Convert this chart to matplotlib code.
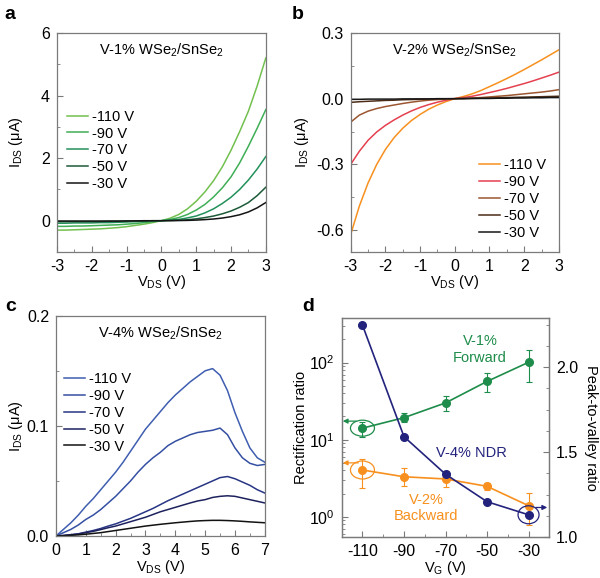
import numpy as np
import matplotlib
matplotlib.use("Agg")
import matplotlib.pyplot as plt
from matplotlib.patches import Ellipse
from matplotlib.ticker import MultipleLocator, LogLocator, NullFormatter
import matplotlib.transforms as mtransforms

plt.rcParams['font.family'] = ['Liberation Sans', 'DejaVu Sans']
plt.rcParams['mathtext.fontset'] = 'custom'
plt.rcParams['mathtext.rm'] = 'Liberation Sans'
plt.rcParams['mathtext.it'] = 'Liberation Sans'
plt.rcParams['axes.unicode_minus'] = False

# ---- data ----
gates = ['-110 V', '-90 V', '-70 V', '-50 V', '-30 V']

# panel a: V-1% (V_DS from -3 to 3, step 0.25)
v_ab = [-3, -2.75, -2.5, -2.25, -2, -1.75, -1.5, -1.25, -1, -0.75, -0.5, -0.25, 0,
        0.25, 0.5, 0.75, 1, 1.25, 1.5, 1.75, 2, 2.25, 2.5, 2.75, 3]
a_110 = [-0.30, -0.30, -0.29, -0.28, -0.27, -0.26, -0.24, -0.22, -0.19, -0.15, -0.11, -0.06, 0,
         0.08, 0.20, 0.38, 0.62, 0.92, 1.28, 1.72, 2.25, 2.85, 3.5, 4.3, 5.2]
a_90 = [-0.18, -0.18, -0.17, -0.17, -0.16, -0.15, -0.14, -0.13, -0.11, -0.09, -0.06, -0.03, 0,
        0.04, 0.10, 0.20, 0.34, 0.52, 0.76, 1.05, 1.40, 1.85, 2.38, 2.95, 3.55]
a_70 = [-0.08, -0.08, -0.07, -0.07, -0.07, -0.06, -0.06, -0.05, -0.04, -0.03, -0.02, -0.01, 0,
        0.02, 0.04, 0.09, 0.15, 0.25, 0.38, 0.55, 0.75, 1.00, 1.30, 1.65, 2.05]
a_50 = [-0.03, -0.03, -0.03, -0.03, -0.03, -0.03, -0.02, -0.02, -0.02, -0.01, -0.01, 0, 0,
        0.005, 0.015, 0.03, 0.06, 0.10, 0.15, 0.22, 0.31, 0.43, 0.58, 0.80, 1.07]
a_30 = [-0.01, -0.01, -0.01, -0.01, -0.01, -0.01, -0.01, -0.01, -0.005, -0.005, 0, 0, 0,
        0.002, 0.005, 0.01, 0.02, 0.035, 0.055, 0.085, 0.13, 0.19, 0.28, 0.41, 0.58]

# panel b: V-2%
b_110 = [-0.62, -0.49, -0.385, -0.30, -0.232, -0.178, -0.135, -0.100, -0.072, -0.048, -0.029, -0.013, 0,
         0.010, 0.022, 0.037, 0.055, 0.073, 0.092, 0.112, 0.133, 0.155, 0.177, 0.200, 0.223]
b_90 = [-0.30, -0.24, -0.19, -0.152, -0.122, -0.097, -0.075, -0.056, -0.040, -0.027, -0.016, -0.007, 0,
        0.005, 0.011, 0.019, 0.028, 0.037, 0.047, 0.058, 0.069, 0.081, 0.094, 0.107, 0.121]
b_70 = [-0.107, -0.075, -0.057, -0.045, -0.036, -0.029, -0.022, -0.016, -0.011, -0.007, -0.004, -0.002, 0,
        0.001, 0.003, 0.005, 0.008, 0.011, 0.014, 0.018, 0.022, 0.026, 0.030, 0.035, 0.041]
b_50 = [-0.017, -0.014, -0.012, -0.010, -0.008, -0.007, -0.005, -0.004, -0.003, -0.002, -0.001, -0.0005, 0,
        0.0005, 0.001, 0.002, 0.003, 0.004, 0.005, 0.006, 0.007, 0.008, 0.009, 0.010, 0.011]
b_30 = [-0.003, -0.003, -0.002, -0.002, -0.002, -0.002, -0.001, -0.001, -0.001, -0.001, 0, 0, 0,
        0, 0.001, 0.001, 0.001, 0.002, 0.002, 0.003, 0.003, 0.004, 0.004, 0.005, 0.005]

# panel c: V-4% (V_DS from 0 to 7, step 0.25)
v_c = [0, 0.25, 0.5, 0.75, 1, 1.25, 1.5, 1.75, 2, 2.25, 2.5, 2.75, 3, 3.25, 3.5, 3.75,
       4, 4.25, 4.5, 4.75, 5, 5.25, 5.5, 5.75, 6, 6.25, 6.5, 6.75, 7]
c_110 = [0, 0.006, 0.012, 0.019, 0.027, 0.034, 0.042, 0.050, 0.058, 0.067, 0.077, 0.087, 0.097, 0.105,
         0.113, 0.121, 0.128, 0.134, 0.140, 0.145, 0.150, 0.152, 0.146, 0.132, 0.112, 0.095, 0.080, 0.071, 0.067]
c_90 = [0, 0.003, 0.006, 0.010, 0.015, 0.019, 0.024, 0.030, 0.036, 0.043, 0.050, 0.058, 0.065, 0.071,
        0.076, 0.082, 0.086, 0.089, 0.092, 0.094, 0.095, 0.096, 0.098, 0.092, 0.080, 0.071, 0.066, 0.064, 0.065]
c_70 = [0, 0.0005, 0.0012, 0.002, 0.0035, 0.005, 0.0068, 0.009, 0.011, 0.0135, 0.016, 0.019, 0.022, 0.025,
        0.0285, 0.032, 0.035, 0.038, 0.041, 0.044, 0.047, 0.050, 0.053, 0.054, 0.052, 0.049, 0.046, 0.042, 0.039]
c_50 = [0, 0.0004, 0.001, 0.0018, 0.003, 0.0042, 0.0058, 0.0075, 0.009, 0.011, 0.013, 0.015, 0.017, 0.0195,
        0.022, 0.024, 0.026, 0.028, 0.030, 0.0318, 0.033, 0.035, 0.036, 0.0365, 0.036, 0.0345, 0.033, 0.0315, 0.030]
c_30 = [0, 0.0002, 0.0006, 0.001, 0.0016, 0.0023, 0.003, 0.004, 0.005, 0.006, 0.007, 0.008, 0.009, 0.0098,
        0.0106, 0.0113, 0.012, 0.0126, 0.0132, 0.0137, 0.014, 0.0142, 0.0142, 0.014, 0.0137, 0.0133, 0.0128, 0.0124, 0.012]

# panel d
vg = [-110, -90, -70, -50, -30]
fwd = [14.1, 19.3, 30, 57, 101]
fwd_lo = [10.9, 16.8, 23.6, 41.6, 56]
fwd_hi = [17.2, 22, 37, 73, 146]
bwd = [4.04, 3.3, 3.09, 2.48, 1.39]
bwd_lo = [2.34, 2.53, 2.41, 2.2, 0.78]
bwd_hi = [5.6, 4.33, 3.88, 2.77, 2.01]
ndr = [2.248, 1.591, 1.37, 1.208, 1.131]
ndr_err = [0.0, 0.012, 0.01, 0.008, 0.01]

green_cols = ['#72c04f', '#3fae55', '#23905a', '#1d5a38', '#141414']
brown_cols = ['#f7901e', '#e5404f', '#9b5630', '#4a2c16', '#161616']
blue_cols = ['#3f5eb0', '#3550a2', '#283584', '#1d225e', '#121212']
c_green = '#1e8c4a'
c_navy = '#23237d'
c_orange = '#f7901e'
spine_col = '#7a7a7a'

fig = plt.figure(figsize=(6.0, 5.78), dpi=100)
ax_a = fig.add_axes([0.095, 0.564, 0.348, 0.379])
ax_b = fig.add_axes([0.5845, 0.564, 0.347, 0.379])
ax_c = fig.add_axes([0.0933, 0.0727, 0.348, 0.381])
ax_d = fig.add_axes([0.5695, 0.0709, 0.346, 0.379])


def style(ax):
    for s in ax.spines.values():
        s.set_color(spine_col)
        s.set_linewidth(0.9)
    ax.tick_params(which='both', direction='in', color=spine_col, labelsize=11.5, pad=5)
    ax.tick_params(which='major', length=4)
    ax.tick_params(which='minor', length=2.2)


legend_kw = dict(frameon=False, fontsize=10.5, handlelength=1.4, handletextpad=0.3,
                 labelspacing=0.2, borderpad=0, borderaxespad=0)

# ---- a ----
for ys, c, lab in zip([a_110, a_90, a_70, a_50, a_30], green_cols, gates):
    ax_a.plot(v_ab, ys, color=c, lw=1.1, label=lab)
ax_a.set_xlim(-3, 3)
ax_a.set_ylim(-1, 6)
ax_a.set_xticks([-3, -2, -1, 0, 1, 2, 3])
ax_a.set_yticks([0, 2, 4, 6])
ax_a.xaxis.set_minor_locator(MultipleLocator(0.5))
ax_a.yaxis.set_minor_locator(MultipleLocator(1))
style(ax_a)
ax_a.text(0.5, 0.92, 'V-1% WSe$_2$/SnSe$_2$', transform=ax_a.transAxes, ha='center', va='center', fontsize=10.5)
ax_a.legend(loc='upper left', bbox_to_anchor=(0.05, 0.65), **legend_kw)
ax_a.set_xlabel('V$_{\\mathregular{DS}}$ (V)', fontsize=10.5)
ax_a.set_ylabel('I$_{\\mathregular{DS}}$ (μA)', fontsize=10.5)
ax_a.xaxis.set_label_coords(0.5, -0.095)
ax_a.yaxis.set_label_coords(-0.155, 0.5)

# ---- b ----
for ys, c, lab in zip([b_110, b_90, b_70, b_50, b_30], brown_cols, gates):
    ax_b.plot(v_ab, ys, color=c, lw=1.1, label=lab)
ax_b.set_xlim(-3, 3)
ax_b.set_ylim(-0.7, 0.3)
ax_b.set_xticks([-3, -2, -1, 0, 1, 2, 3])
ax_b.set_yticks([-0.6, -0.3, 0.0, 0.3])
ax_b.set_yticklabels(['-0.6', '-0.3', '0.0', '0.3'])
ax_b.xaxis.set_minor_locator(MultipleLocator(0.5))
ax_b.yaxis.set_minor_locator(MultipleLocator(0.15))
style(ax_b)
ax_b.text(0.5, 0.92, 'V-2% WSe$_2$/SnSe$_2$', transform=ax_b.transAxes, ha='center', va='center', fontsize=10.5)
ax_b.legend(loc='lower right', bbox_to_anchor=(0.94, 0.055), **legend_kw)
ax_b.set_xlabel('V$_{\\mathregular{DS}}$ (V)', fontsize=10.5)
ax_b.set_ylabel('I$_{\\mathregular{DS}}$ (μA)', fontsize=10.5)
ax_b.xaxis.set_label_coords(0.5, -0.095)
ax_b.yaxis.set_label_coords(-0.19, 0.5)

# ---- c ----
for ys, c, lab in zip([c_110, c_90, c_70, c_50, c_30], blue_cols, gates):
    ax_c.plot(v_c, ys, color=c, lw=1.1, label=lab)
ax_c.set_xlim(0, 7)
ax_c.set_ylim(0, 0.2)
ax_c.set_xticks([0, 1, 2, 3, 4, 5, 6, 7])
ax_c.set_yticks([0.0, 0.1, 0.2])
ax_c.set_yticklabels(['0.0', '0.1', '0.2'])
ax_c.xaxis.set_minor_locator(MultipleLocator(0.5))
ax_c.yaxis.set_minor_locator(MultipleLocator(0.05))
style(ax_c)
ax_c.text(0.5, 0.922, 'V-4% WSe$_2$/SnSe$_2$', transform=ax_c.transAxes, ha='center', va='center', fontsize=10.5)
ax_c.legend(loc='upper left', bbox_to_anchor=(0.04, 0.745), **legend_kw)
ax_c.set_xlabel('V$_{\\mathregular{DS}}$ (V)', fontsize=10.5)
ax_c.set_ylabel('I$_{\\mathregular{DS}}$ (μA)', fontsize=10.5)
ax_c.xaxis.set_label_coords(0.5, -0.1)
ax_c.yaxis.set_label_coords(-0.15, 0.5)

# ---- d ----
ax_d.set_yscale('log')
ax_d.errorbar(vg, fwd, yerr=[np.array(fwd) - np.array(fwd_lo), np.array(fwd_hi) - np.array(fwd)],
              color=c_green, marker='o', ms=5.5, lw=1.2, capsize=2, elinewidth=0.8, capthick=0.8)
ax_d.errorbar(vg, bwd, yerr=[np.array(bwd) - np.array(bwd_lo), np.array(bwd_hi) - np.array(bwd)],
              color=c_orange, marker='o', ms=5.5, lw=1.2, capsize=2, elinewidth=0.8, capthick=0.8)
ax_d.set_xlim(-120, -20)
ax_d.set_ylim(0.545, 380)
ax_d.set_xticks(vg)
ax_d.xaxis.set_minor_locator(MultipleLocator(10))
ax_d.yaxis.set_major_locator(LogLocator(base=10, numticks=10))
ax_d.yaxis.set_minor_locator(LogLocator(base=10, subs=np.arange(2, 10), numticks=10))
ax_d.yaxis.set_minor_formatter(NullFormatter())
style(ax_d)
ax_d.set_xlabel('V$_{\\mathregular{G}}$ (V)', fontsize=10.5)
ax_d.set_ylabel('Rectification ratio', fontsize=10.5)
ax_d.xaxis.set_label_coords(0.5, -0.1)
ax_d.yaxis.set_label_coords(-0.16, 0.5)

ax_d2 = ax_d.twinx()
ax_d2.errorbar(vg, ndr, yerr=ndr_err, color=c_navy, marker='o', ms=5.5, lw=1.2,
               capsize=2, elinewidth=0.8, capthick=0.8)
ax_d2.set_ylim(1.0, 2.29)
ax_d2.set_yticks([1.0, 1.5, 2.0])
ax_d2.set_yticklabels(['1.0', '1.5', '2.0'])
ax_d2.yaxis.set_minor_locator(MultipleLocator(0.125))
style(ax_d2)
ax_d2.set_ylabel('Peak-to-valley ratio', fontsize=10.5, rotation=270)
ax_d2.yaxis.set_label_coords(1.235, 0.5)

# ellipses and arrows marking the axes
def ring(ax, x, y, w, h, color):
    tr = fig.dpi_scale_trans + mtransforms.ScaledTranslation(x, y, ax.transData)
    e = Ellipse((0, 0), w, h, transform=tr, fill=False, edgecolor=color, lw=0.9, clip_on=False)
    ax.add_patch(e)

ring(ax_d, -110, fwd[0], 0.24, 0.16, c_green)
ring(ax_d, -110, bwd[0], 0.24, 0.18, c_orange)
ring(ax_d2, -30, ndr[4], 0.21, 0.18, c_navy)

arrow = dict(arrowstyle='-|>', lw=0.9, mutation_scale=7, shrinkA=0, shrinkB=0)
ax_d.annotate('', xy=(-119.5, 17.4), xytext=(-113, 17.4), arrowprops=dict(color=c_green, **arrow))
ax_d.annotate('', xy=(-119.5, 5.0), xytext=(-112, 5.0), arrowprops=dict(color=c_orange, **arrow))
ax_d2.annotate('', xy=(-21, 1.174), xytext=(-26.5, 1.174), arrowprops=dict(color=c_navy, **arrow))

ax_d.text(0.666, 0.856, 'V-1%\nForward', transform=ax_d.transAxes, ha='center', va='center',
          color=c_green, fontsize=10.5, linespacing=1.2)
ax_d.text(0.626, 0.385, 'V-4% NDR', transform=ax_d.transAxes, ha='center', va='center',
          color=c_navy, fontsize=10.5)
ax_d.text(0.406, 0.132, 'V-2%\nBackward', transform=ax_d.transAxes, ha='center', va='center',
          color=c_orange, fontsize=10.5, linespacing=1.2)

# panel letters
for lab, x, y in [('a', 0.008, 0.975), ('b', 0.487, 0.975), ('c', 0.008, 0.47), ('d', 0.503, 0.47)]:
    fig.text(x, y, lab, fontsize=14, fontweight='bold', ha='left', va='center')

fig.savefig('out.png', dpi=100)
